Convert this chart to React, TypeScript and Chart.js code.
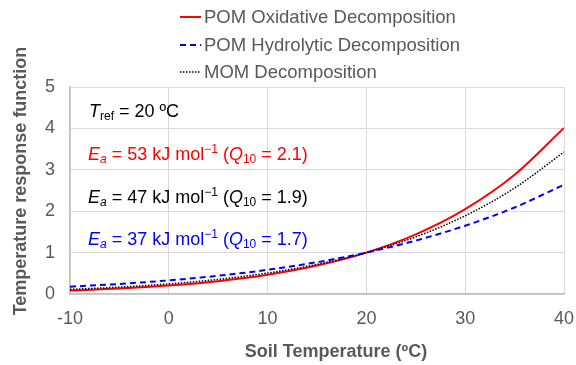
import React, { useEffect, useRef } from "react";
import { Chart, registerables } from "chart.js";

Chart.register(...registerables);

const temps = [-10, -5, 0, 5, 10, 15, 20, 25, 30, 35, 40];
const pomOxidative = [0.084, 0.132, 0.204, 0.309, 0.464, 0.686, 1.0, 1.44, 2.05, 2.88, 4.01];
const pomHydrolytic = [0.177, 0.243, 0.329, 0.441, 0.585, 0.768, 1.0, 1.29, 1.65, 2.09, 2.64];
const momDecomp = [0.111, 0.166, 0.244, 0.353, 0.506, 0.716, 1.0, 1.38, 1.89, 2.56, 3.43];
const seriesNames = ["POM Oxidative Decomposition", "POM Hydrolytic Decomposition", "MOM Decomposition"];
const xTicks = [-10, 0, 10, 20, 30, 40];
const yTicks = [0, 1, 2, 3, 4, 5];
const xTitle = "Soil Temperature (ºC)";
const yTitle = "Temperature response function";

type Seg = { t: string; it?: boolean; sub?: boolean; sup?: boolean };

const FONT = "Arial, 'Liberation Sans', sans-serif";

function drawRich(ctx: CanvasRenderingContext2D, segs: Seg[], x: number, y: number, color: string) {
  ctx.save();
  ctx.fillStyle = color;
  ctx.textBaseline = "middle";
  ctx.textAlign = "left";
  let cx = x;
  for (const s of segs) {
    const size = s.sub || s.sup ? 12 : 18;
    ctx.font = `${s.it ? "italic " : ""}${size}px ${FONT}`;
    const dy = s.sub ? 5 : s.sup ? -5 : 0;
    ctx.fillText(s.t, cx, y + dy);
    cx += ctx.measureText(s.t).width;
  }
  ctx.restore();
}

const overlayPlugin = {
  id: "overlay",
  afterDraw(chart: any) {
    const ctx: CanvasRenderingContext2D = chart.ctx;
    // legend
    const items = [
      { name: seriesNames[0], color: "#ff0000", dash: [] as number[], w: 2 },
      { name: seriesNames[1], color: "#0000ff", dash: [6, 4], w: 2 },
      { name: seriesNames[2], color: "#000000", dash: [1.5, 1.5], w: 1.5 },
    ];
    const ys = [17, 45, 72];
    items.forEach((it, i) => {
      ctx.save();
      ctx.strokeStyle = it.color;
      ctx.lineWidth = it.w;
      ctx.setLineDash(it.dash);
      ctx.beginPath();
      ctx.moveTo(180, ys[i]);
      ctx.lineTo(201, ys[i]);
      ctx.stroke();
      ctx.setLineDash([]);
      ctx.fillStyle = "#595959";
      ctx.font = `18.5px ${FONT}`;
      ctx.textBaseline = "middle";
      ctx.fillText(it.name, 204, ys[i] + 1);
      ctx.restore();
    });
    // axis titles
    ctx.save();
    ctx.fillStyle = "#595959";
    ctx.font = `bold 18px ${FONT}`;
    ctx.textAlign = "center";
    ctx.textBaseline = "middle";
    ctx.fillText(xTitle, 336, 352);
    ctx.translate(21, 181);
    ctx.rotate(-Math.PI / 2);
    ctx.fillText(yTitle, 0, 0);
    ctx.restore();
    // annotations
    drawRich(ctx, [{ t: "T", it: true }, { t: "ref", sub: true }, { t: " = 20 ºC" }], 89, 112, "#000000");
    drawRich(
      ctx,
      [{ t: "E", it: true }, { t: "a", it: true, sub: true }, { t: " = 53 kJ mol" }, { t: "−1", sup: true }, { t: " (" }, { t: "Q", it: true }, { t: "10", sub: true }, { t: " = 2.1)" }],
      88, 155, "#ff0000"
    );
    drawRich(
      ctx,
      [{ t: "E", it: true }, { t: "a", it: true, sub: true }, { t: " = 47 kJ mol" }, { t: "−1", sup: true }, { t: " (" }, { t: "Q", it: true }, { t: "10", sub: true }, { t: " = 1.9)" }],
      88, 198, "#000000"
    );
    drawRich(
      ctx,
      [{ t: "E", it: true }, { t: "a", it: true, sub: true }, { t: " = 37 kJ mol" }, { t: "−1", sup: true }, { t: " (" }, { t: "Q", it: true }, { t: "10", sub: true }, { t: " = 1.7)" }],
      88, 240, "#0000ff"
    );
  },
};

export default function App() {
  const ref = useRef<HTMLCanvasElement>(null);
  useEffect(() => {
    const toPts = (arr: number[]) => temps.map((t, i) => ({ x: t, y: arr[i] }));
    const chart = new Chart(ref.current!, {
      type: "line",
      data: {
        datasets: [
          { label: seriesNames[1], data: toPts(pomHydrolytic), borderColor: "#0000ff", borderWidth: 2, borderDash: [6, 4], pointRadius: 0, cubicInterpolationMode: "monotone", fill: false },
          { label: seriesNames[2], data: toPts(momDecomp), borderColor: "#000000", borderWidth: 1.5, borderDash: [1.5, 1.5], pointRadius: 0, cubicInterpolationMode: "monotone", fill: false },
          { label: seriesNames[0], data: toPts(pomOxidative), borderColor: "#ff0000", borderWidth: 2, pointRadius: 0, cubicInterpolationMode: "monotone", fill: false },
        ],
      },
      options: {
        animation: false,
        responsive: false,
        layout: { padding: { top: 87, right: 12, left: 0, bottom: 0 } },
        plugins: { legend: { display: false }, tooltip: { enabled: false } },
        scales: {
          x: {
            type: "linear",
            min: -10,
            max: 40,
            afterBuildTicks: (s: any) => { s.ticks = xTicks.map((v) => ({ value: v })); },
            afterFit: (s: any) => { s.height = 71; s.paddingRight = 0; s.paddingLeft = 0; },
            grid: { color: "#d9d9d9", drawTicks: false, lineWidth: 1 },
            border: { color: "#bfbfbf", width: 1.5 },
            ticks: { color: "#595959", font: { size: 18, family: FONT }, padding: 14, maxRotation: 0 },
          },
          y: {
            min: 0,
            max: 5,
            afterBuildTicks: (s: any) => { s.ticks = yTicks.map((v) => ({ value: v })); },
            afterFit: (s: any) => { s.width = 70; s.paddingTop = 0; s.paddingBottom = 0; },
            grid: { color: "#d9d9d9", drawTicks: false, lineWidth: 1 },
            border: { color: "#bfbfbf", width: 1.5 },
            ticks: { color: "#595959", font: { size: 18, family: FONT }, padding: 15 },
          },
        },
      },
      plugins: [overlayPlugin],
    } as any);
    return () => chart.destroy();
  }, []);
  return (
    <div style={{ position: "fixed", left: 0, top: 0, width: 576, height: 365, background: "#fff" }}>
      <canvas ref={ref} width={576} height={365} style={{ width: 576, height: 365 }} />
    </div>
  );
}
